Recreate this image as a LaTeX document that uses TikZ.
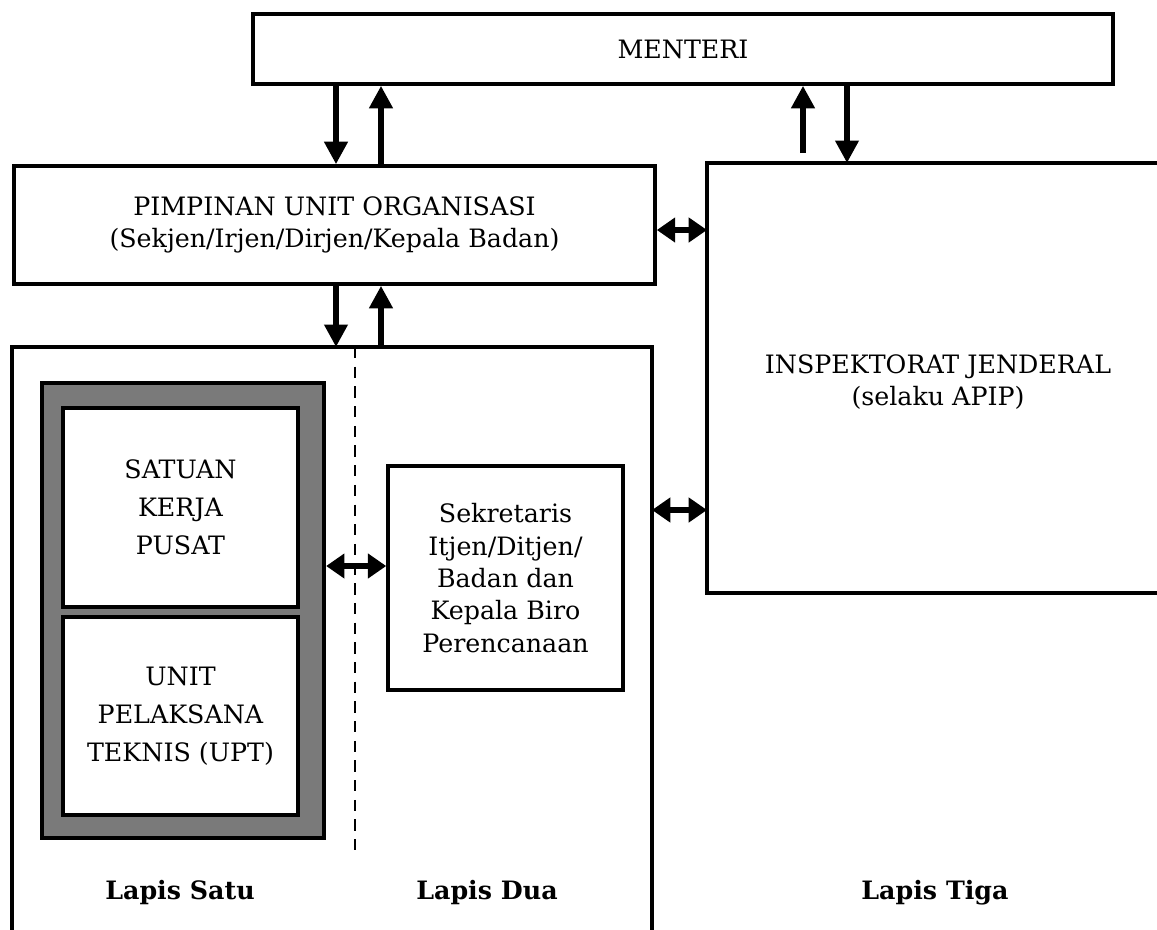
\documentclass[tikz,border=0pt]{standalone}
\usepackage{fontspec}
\setmainfont{DejaVu Serif}
\usetikzlibrary{arrows.meta}
\tikzset{
  box/.style={draw, line width=2.5pt, align=center, inner sep=0pt},
  arr/.style={line width=4.2pt, -{Triangle[width=16pt,length=16pt]}},
  darr/.style={line width=4pt, {Triangle[width=17pt,length=13pt]}-{Triangle[width=17pt,length=13pt]}},
  lbl/.style={font=\fontsize{18}{23}\selectfont\bfseries},
}
\begin{document}
\begin{tikzpicture}[x=0.025cm, y=-0.025cm, font=\fontsize{18}{23}\selectfont]
\useasboundingbox (0,0) rectangle (1157,929);
% top boxes
\node[box, minimum width=21.5cm, minimum height=1.75cm] (menteri) at (683,49) {MENTERI};
\node[box, minimum width=16.025cm, minimum height=2.95cm] (pim) at (334.5,225)
  {PIMPINAN UNIT ORGANISASI\\(Sekjen/Irjen/Dirjen/Kepala Badan)};
% inspektorat, open to the right
\coordinate (inspNW) at (707,163);
\coordinate (inspSW) at (707,593);
\draw[line width=2.5pt] (1160,163) -- (inspNW) -- (inspSW) -- (1160,593);
\node[align=center] (insp) at (938,382) {INSPEKTORAT JENDERAL\\(selaku APIP)};
% lapis satu & dua, open at the bottom
\coordinate (lapNW) at (12,347);
\coordinate (lapNE) at (652,347);
\draw[line width=2.5pt] (12,932) -- (lapNW) -- (lapNE) -- (652,932);
\draw[dashed, line width=1pt, dash pattern=on 8pt off 6pt] (355,347) -- (355,858);
% unit kerja
\node[draw, line width=3pt, fill=black!52, minimum width=7.05cm, minimum height=11.375cm] (frame) at (183,610.5) {};
\node[box, fill=white, line width=3pt, minimum width=5.875cm, minimum height=4.975cm] (satker) at (180.5,507.5)
  {SATUAN\\[4pt]KERJA\\[4pt]PUSAT};
\node[box, fill=white, line width=3pt, minimum width=5.875cm, minimum height=4.95cm] (upt) at (180.5,716)
  {UNIT\\[4pt]PELAKSANA\\[4pt]TEKNIS (UPT)};
\node[box, minimum width=5.875cm, minimum height=5.6cm] (sekr) at (505.5,578)
  {Sekretaris\\Itjen/Ditjen/\\Badan dan\\Kepala Biro\\Perencanaan};
% arrows
\draw[arr] (menteri.south -| 336,0) -- (pim.north -| 336,0);
\draw[arr] (pim.north -| 381,0) -- (menteri.south -| 381,0);
\draw[arr] (803,153) -- (menteri.south -| 803,0);
\draw[arr] (menteri.south -| 847,0) -- (inspNW -| 847,0);
\draw[arr] (pim.south -| 336,0) -- (lapNW -| 336,0);
\draw[arr] (lapNW -| 381,0) -- (pim.south -| 381,0);
\draw[darr] (pim.east |- 0,230) -- (inspNW |- 0,230);
\draw[darr] (lapNE |- 0,510) -- (inspNW |- 0,510);
\draw[darr] (frame.east |- 0,566) -- (sekr.west |- 0,566);
% lapis labels
\node[lbl] (satu) at (180,893) {Lapis Satu};
\node[lbl] (dua) at (487,893) {Lapis Dua};
\node[lbl] (tiga) at (935,893) {Lapis Tiga};
\end{tikzpicture}
\end{document}
